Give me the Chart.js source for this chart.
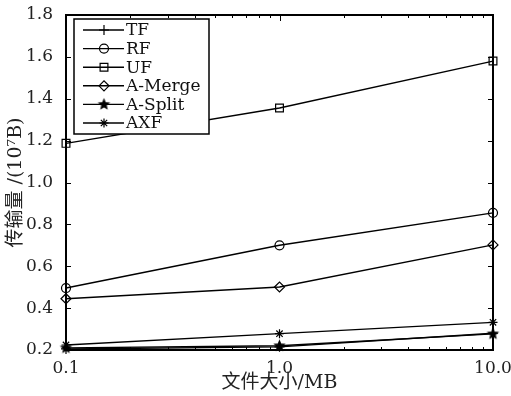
<!DOCTYPE html>
<html><head><meta charset="utf-8">
<script src="https://cdn.jsdelivr.net/npm/chart.js@4/dist/chart.umd.min.js"></script>
<style>html,body{margin:0;padding:0;background:#fff;}canvas{display:block;}</style>
</head><body>
<canvas id="c" width="511" height="396"></canvas>
<script>
const fileSizes = [0.1, 1.0, 10.0];
const majorTicks = [0.1, 1, 10];
const seriesNames = ['TF', 'RF', 'UF', 'A-Merge', 'A-Split', 'AXF'];
const tfValues = [0.205, 0.215, 0.280];
const rfValues = [0.496, 0.700, 0.855];
const ufValues = [1.187, 1.356, 1.580];
const amergeValues = [0.445, 0.501, 0.702];
const asplitValues = [0.210, 0.220, 0.277];
const axfValues = [0.224, 0.278, 0.332];
const xTitle = '文件大小/MB';
const yTitle = '传输量 /(10⁷B)';

function makeStar(r) {
  const c = document.createElement('canvas');
  const s = Math.ceil(r * 2 + 2);
  c.width = s; c.height = s;
  const g = c.getContext('2d');
  g.fillStyle = '#000';
  g.beginPath();
  for (let i = 0; i < 10; i++) {
    const rr = i % 2 === 0 ? r : r * 0.45;
    const a = -Math.PI / 2 + i * Math.PI / 5;
    const px = s / 2 + rr * Math.cos(a), py = s / 2 + rr * Math.sin(a);
    if (i === 0) g.moveTo(px, py); else g.lineTo(px, py);
  }
  g.closePath(); g.fill();
  return c;
}
const pentagram = makeStar(6.5);

const allValues = [tfValues, rfValues, ufValues, amergeValues, asplitValues, axfValues];
const styles = [
  {pointStyle: 'cross', radius: 5},
  {pointStyle: 'circle', radius: 4.5},
  {pointStyle: 'rect', radius: 5.5},
  {pointStyle: 'rectRot', radius: 5},
  {pointStyle: pentagram, radius: 6},
  {pointStyle: 'star', radius: 4.5}
];

const datasets = seriesNames.map((n, i) => ({
  label: n,
  data: fileSizes.map((x, j) => ({x: x, y: allValues[i][j]})),
  borderColor: '#000',
  backgroundColor: 'rgba(0,0,0,0)',
  pointBorderColor: '#000',
  pointBackgroundColor: 'rgba(0,0,0,0)',
  borderWidth: 1.4,
  pointBorderWidth: 1.2,
  pointStyle: styles[i].pointStyle,
  pointRadius: styles[i].radius,
  tension: 0,
  clip: false
}));

const FONT = 'DejaVu Serif';
const TITLE_FONT = '"DejaVu Serif", "Noto Sans CJK SC"';

const framePlugin = {
  id: 'frame',
  beforeDatasetsDraw(chart) {
    const {ctx, chartArea: a, scales} = chart;
    ctx.save();
    ctx.strokeStyle = '#000';
    ctx.lineWidth = 1;
    const xs = scales.x;
    for (let d = 0.1; d < 10.5; d *= 10) {
      for (let k = 1; k <= 9; k++) {
        const v = d * k;
        if (v < 0.1 - 1e-9 || v > 10 + 1e-9) continue;
        const px = Math.round(xs.getPixelForValue(v)) + 0.5;
        const len = k === 1 ? 6 : 3;
        ctx.beginPath();
        ctx.moveTo(px, a.bottom); ctx.lineTo(px, a.bottom - len);
        ctx.moveTo(px, a.top); ctx.lineTo(px, a.top + len);
        ctx.stroke();
      }
    }
    const ys = scales.y;
    ys.ticks.forEach(t => {
      const py = Math.round(ys.getPixelForValue(t.value)) + 0.5;
      ctx.beginPath();
      ctx.moveTo(a.left, py); ctx.lineTo(a.left + 5, py);
      ctx.moveTo(a.right, py); ctx.lineTo(a.right - 5, py);
      ctx.stroke();
    });
    ctx.lineWidth = 2;
    ctx.strokeRect(a.left, a.top, a.right - a.left, a.bottom - a.top);
    ctx.restore();
  },
  afterDraw(chart) {
    const {ctx, chartArea: a} = chart;
    ctx.save();
    const bx = a.left + 8, by = a.top + 4, bw = 135, bh = 115;
    ctx.fillStyle = '#fff';
    ctx.fillRect(bx, by, bw, bh);
    ctx.strokeStyle = '#000';
    ctx.lineWidth = 1.5;
    ctx.strokeRect(bx, by, bw, bh);
    const step = 18.6;
    chart.data.datasets.forEach((ds, i) => {
      const y = by + 11 + i * step;
      ctx.strokeStyle = '#000';
      ctx.lineWidth = 1.4;
      ctx.beginPath();
      ctx.moveTo(bx + 9, y); ctx.lineTo(bx + 50, y);
      ctx.stroke();
      ctx.fillStyle = 'rgba(0,0,0,0)';
      ctx.lineWidth = 1.2;
      Chart.helpers.drawPoint(ctx, {pointStyle: ds.pointStyle, radius: ds.pointRadius, rotation: 0, borderWidth: 1.2}, bx + 30, y);
      ctx.fillStyle = '#111';
      ctx.font = '17px "' + FONT + '"';
      ctx.textBaseline = 'middle';
      ctx.textAlign = 'left';
      ctx.fillText(ds.label, bx + 52, y + 1);
    });
    ctx.restore();
  }
};

new Chart(document.getElementById('c'), {
  type: 'line',
  data: {datasets: datasets},
  options: {
    responsive: false,
    animation: false,
    layout: {padding: {top: 15, right: 0, left: 0, bottom: 0}},
    plugins: {legend: {display: false}, tooltip: {enabled: false}},
    scales: {
      x: {
        type: 'logarithmic',
        min: 0.1, max: 10,
        grid: {display: false, drawTicks: false},
        border: {display: false},
        afterBuildTicks(scale) {
          scale.ticks = majorTicks.map(v => ({value: v, major: true}));
        },
        ticks: {
          autoSkip: false,
          maxRotation: 0,
          padding: 8,
          color: '#222',
          font: {family: FONT, size: 17},
          callback: (v) => Number(v).toFixed(1)
        },
        title: {display: true, text: xTitle, color: '#222', font: {family: TITLE_FONT, size: 19}, padding: {top: 0, bottom: 2}},
        afterFit(scale) { scale.height = 46; scale.paddingRight = 18; scale.paddingLeft = 0; }
      },
      y: {
        min: 0.2, max: 1.8,
        grid: {display: false, drawTicks: false},
        border: {display: false},
        ticks: {
          stepSize: 0.2,
          padding: 13,
          color: '#222',
          font: {family: FONT, size: 17},
          callback: (v) => Number(v).toFixed(1)
        },
        title: {display: true, text: yTitle, color: '#222', font: {family: TITLE_FONT, size: 19}, padding: {top: 5, bottom: 0}},
        afterFit(scale) { scale.width = 66; scale.paddingTop = 0; scale.paddingBottom = 0; }
      }
    }
  },
  plugins: [framePlugin]
});
</script>
</body></html>
